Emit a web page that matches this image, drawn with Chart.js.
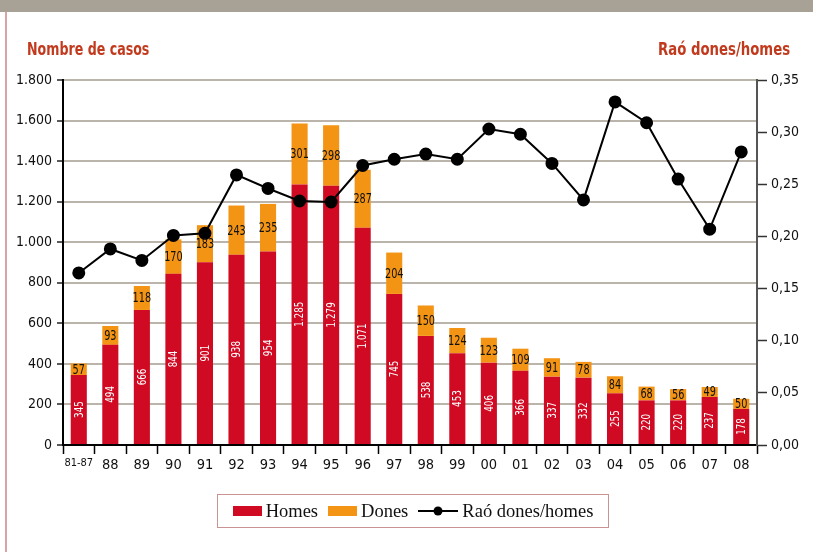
<!DOCTYPE html>
<html>
<head>
<meta charset="utf-8">
<script src="https://cdn.jsdelivr.net/npm/chart.js@4"></script>
<style>
  body { margin: 0; background: #fff; }
  #wrap { position: relative; width: 813px; height: 552px; overflow: hidden; font-family: "DejaVu Sans Condensed", sans-serif; }
  #band { position: absolute; left: 0; top: 0; width: 813px; height: 12px; background: #a8a296; }
  #rule { position: absolute; left: 5px; top: 12px; width: 2px; height: 540px; background: #d8a4a4; }
  .axtitle { position: absolute; top: 38px; font-weight: bold; font-size: 18px; color: #c23a1e; white-space: nowrap; }
  #legend { position: absolute; left: 217px; top: 494px; width: 390px; height: 32px; border: 1.5px solid #c99393;
            display: flex; align-items: center; justify-content: center; font-family: "Liberation Serif", serif; font-size: 18.5px; color: #111; }
  .sw { display: inline-block; width: 29px; height: 10px; margin-right: 4px; }
  .item { display: flex; align-items: center; margin: 0 5px; }
</style>
</head>
<body>
<div id="wrap">
  <div id="band"></div>
  <div id="rule"></div>
  <canvas id="chart" width="813" height="552"></canvas>
  <div class="axtitle" style="left:27px; transform:scaleX(0.78); transform-origin:left">Nombre de casos</div>
  <div class="axtitle" style="right:23px; transform:scaleX(0.82); transform-origin:right">Raó dones/homes</div>
  <div id="legend"></div>
</div>
<script>
// Valors llegits del gràfic
const years = ['81-87', '88', '89', '90', '91', '92', '93', '94', '95', '96', '97', '98', '99', '00', '01', '02', '03', '04', '05', '06', '07', '08'];
const homes = [345, 494, 666, 844, 901, 938, 954, 1285, 1279, 1071, 745, 538, 453, 406, 366, 337, 332, 255, 220, 220, 237, 178];
const dones = [57, 93, 118, 170, 183, 243, 235, 301, 298, 287, 204, 150, 124, 123, 109, 91, 78, 84, 68, 56, 49, 50];
const rao = [0.165, 0.188, 0.177, 0.201, 0.203, 0.259, 0.246, 0.234, 0.233, 0.268, 0.274, 0.279, 0.274, 0.303, 0.298, 0.270, 0.235, 0.329, 0.309, 0.255, 0.207, 0.281];

const RED = '#cf0a22';
const ORANGE = '#f39415';
const NARROW = '"DejaVu Sans Condensed", sans-serif';

const fmtThousands = v => {
  const s = String(Math.round(v));
  return s.length > 3 ? s.slice(0, -3) + '.' + s.slice(-3) : s;
};

// etiquetes dins de les barres (text estret)
const barLabels = {
  id: 'barLabels',
  afterDatasetsDraw(chart) {
    const ctx = chart.ctx;
    ctx.save();
    ctx.textAlign = 'center';
    ctx.textBaseline = 'middle';

    chart.getDatasetMeta(1).data.forEach((bar, i) => {
      const cy = (bar.y + bar.base) / 2;
      ctx.save();
      ctx.translate(bar.x + 0.5, cy);
      ctx.rotate(-Math.PI / 2);
      ctx.scale(0.78, 1);
      ctx.fillStyle = '#fff';
      ctx.font = '12.5px ' + NARROW;
      ctx.fillText(fmtThousands(homes[i]), 0, 0);
      ctx.restore();
    });

    chart.getDatasetMeta(2).data.forEach((bar, i) => {
      const cy = (bar.y + bar.base) / 2;
      ctx.save();
      ctx.translate(bar.x, cy + 1);
      ctx.scale(0.8, 1);
      ctx.fillStyle = '#111';
      ctx.font = '13.5px ' + NARROW;
      ctx.fillText(dones[i], 0, 0);
      ctx.restore();
    });
    ctx.restore();
  }
};

const ctx = document.getElementById('chart').getContext('2d');
new Chart(ctx, {
  data: {
    labels: years,
    datasets: [
      {
        type: 'line',
        label: 'Raó dones/homes',
        data: rao,
        yAxisID: 'y1',
        borderColor: '#000',
        backgroundColor: '#000',
        borderWidth: 2,
        pointRadius: 5.5,
        pointHoverRadius: 5.5,
        tension: 0,
        order: 0
      },
      {
        type: 'bar',
        label: 'Homes',
        data: homes,
        yAxisID: 'y',
        backgroundColor: RED,
        stack: 'casos',
        barPercentage: 0.51,
        categoryPercentage: 1,
        order: 1
      },
      {
        type: 'bar',
        label: 'Dones',
        data: dones,
        yAxisID: 'y',
        backgroundColor: ORANGE,
        stack: 'casos',
        barPercentage: 0.51,
        categoryPercentage: 1,
        order: 1
      }
    ]
  },
  options: {
    responsive: false,
    animation: false,
    layout: { padding: { top: 80, left: 0, right: 0, bottom: 0 } },
    plugins: {
      legend: { display: false },
      tooltip: { enabled: false }
    },
    scales: {
      x: {
        stacked: true,
        afterFit: s => { s.height = 107; },
        border: { color: '#000', width: 2 },
        grid: { offset: true, drawOnChartArea: false, tickLength: 9, tickColor: '#000', tickWidth: 1.5 },
        ticks: {
          color: '#111',
          padding: 3,
          maxRotation: 0,
          autoSkip: false,
          font: c => ({ family: NARROW, size: c.index === 0 ? 11 : 14.5 })
        }
      },
      y: {
        stacked: true,
        position: 'left',
        min: 0,
        max: 1800,
        afterFit: s => { s.width = 63; },
        border: { color: '#000', width: 2 },
        grid: { color: '#bab4aa', lineWidth: 2, tickLength: 6, tickColor: '#222', tickWidth: 1.5 },
        ticks: {
          stepSize: 200,
          padding: 5,
          color: '#111',
          font: { family: NARROW, size: 14 },
          callback: v => fmtThousands(v)
        }
      },
      y1: {
        position: 'right',
        min: 0,
        max: 0.35,
        afterFit: s => { s.width = 56; },
        border: { color: '#555', width: 2 },
        grid: { drawOnChartArea: false, tickLength: 10, tickColor: '#333', tickWidth: 1.5 },
        ticks: {
          stepSize: 0.05,
          padding: 4,
          color: '#111',
          font: { family: NARROW, size: 14 },
          callback: v => v.toFixed(2).replace('.', ',')
        }
      }
    }
  },
  plugins: [barLabels]
});

// llegenda a mida
const legend = document.getElementById('legend');
legend.innerHTML = `
  <div class="item"><span class="sw" style="background:${RED}"></span>Homes</div>
  <div class="item"><span class="sw" style="background:${ORANGE}"></span>Dones</div>
  <div class="item">
    <svg width="40" height="12" style="margin-right:4px"><line x1="0" y1="6" x2="40" y2="6" stroke="#000" stroke-width="2"/><circle cx="20" cy="6" r="4.5" fill="#000"/></svg>
    Raó dones/homes
  </div>`;
</script>
</body>
</html>
